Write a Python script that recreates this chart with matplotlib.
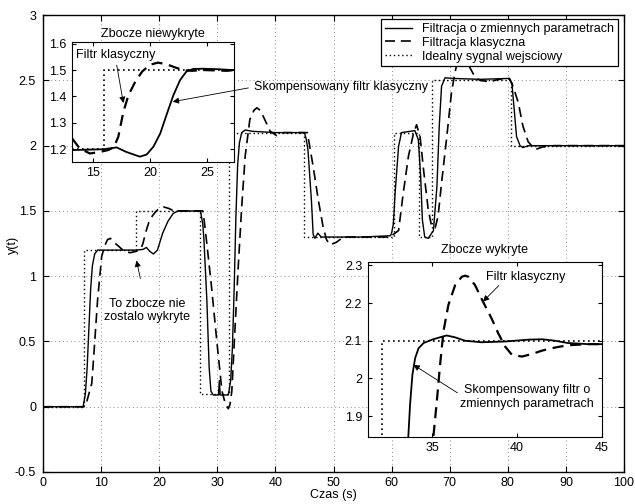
import matplotlib
matplotlib.use("Agg")
import matplotlib.pyplot as plt

plt.rcParams['font.family'] = ['Liberation Sans', 'DejaVu Sans']
plt.rcParams['axes.unicode_minus'] = False

# ---------------- data (main plot) ----------------
ideal_t = [0, 7, 16, 27, 32, 45, 60.4, 64.8, 67, 80.6, 100]
ideal_y = [0, 1.2, 1.5, 0.1, 2.1, 1.3, 2.1, 1.3, 2.5, 2.0, 2.0]

solid_t = [0, 6.9, 7.1, 7.3, 7.6, 7.9, 8.2, 8.5, 8.9, 9.4, 12, 16, 17.2, 17.8, 18.4,
           19.0, 19.7, 20.6, 21.5, 22.4, 23.2, 27.1, 27.3, 27.5, 27.7, 28.2, 28.6,
           28.9, 29.3, 30.2, 30.35, 30.5, 31.9, 32.3, 32.6, 32.9, 33.2, 33.5, 33.8,
           34.2, 34.8, 36, 40, 45.0, 45.3, 45.6, 46.2, 46.5, 46.8, 47.3, 47.9, 55,
           59.8, 60.0, 60.3, 60.6, 61.2, 61.7, 63.2, 64.0, 64.6, 65.0, 65.3, 65.7,
           66.3, 67.2, 67.8, 68.2, 68.6, 69.2, 70.6, 75.2, 80.1, 80.7, 81.1, 81.5,
           82.1, 82.6, 83.5, 90, 100]
solid_y = [0, 0.0, 0.05, 0.1, 0.3, 0.6, 0.9, 1.08, 1.17, 1.2, 1.2, 1.2, 1.205, 1.22, 1.19,
           1.17, 1.2, 1.33, 1.42, 1.48, 1.5, 1.5, 1.45, 1.4, 1.28, 0.82, 0.3,
           0.12, 0.09, 0.09, 0.2, 0.09, 0.09, 0.2, 0.45, 0.9, 1.45, 1.85, 2.02,
           2.1, 2.12, 2.11, 2.1, 2.1, 2.05, 1.97, 1.58, 1.32, 1.29, 1.33, 1.3, 1.3,
           1.31, 1.33, 1.4, 1.635, 1.995, 2.1, 2.11, 2.115, 2.046, 1.764, 1.43, 1.30,
           1.29, 1.35, 1.687, 2.15, 2.456, 2.52, 2.515, 2.508, 2.515, 2.48, 2.277, 2.07,
           2.0, 1.985, 2.0, 2.0, 2.0]

dashed_t = [0, 7.2, 7.6, 8.4, 8.8, 9.4, 10.1, 10.6, 11.1, 11.6, 12.2, 13.0, 14.0, 15.0,
            16.0, 16.8, 17.2, 17.7, 18.2, 18.8, 19.4, 20.0, 20.8, 21.6, 22.3, 23.0,
            27.5, 27.6, 28.2, 29.0, 29.9, 30.8, 31.4, 31.9, 32.2, 32.5, 33.0, 33.6,
            34.2, 34.8, 35.6, 36.3, 36.8, 37.4, 37.9, 39.1, 40.2, 41.4, 45.5, 46.5,
            47.4, 48.2, 48.8, 49.4, 50.5, 51.7, 59.7, 61.2, 62.0, 62.9, 63.8, 64.3,
            64.9, 65.5, 66.3, 66.9, 67.5, 68.0, 68.6, 69.5, 70.3, 70.9, 71.3, 72.2,
            73.2, 74.3, 75.2, 76.9, 78.6, 80.3, 80.9, 81.8, 82.6, 83.5, 84.7, 86.0,
            88, 100]
dashed_y = [0, 0.0, 0.05, 0.18, 0.43, 0.82, 1.15, 1.23, 1.28, 1.29, 1.26, 1.23, 1.19, 1.18,
            1.19, 1.205, 1.25, 1.34, 1.41, 1.46, 1.495, 1.52, 1.53, 1.52, 1.505, 1.5,
            1.5, 1.48, 1.25, 0.92, 0.51, 0.12, 0.02, -0.015, 0.02, 0.12, 0.56, 1.07,
            1.53, 1.92, 2.2, 2.27, 2.29, 2.27, 2.225, 2.11, 2.077, 2.1, 2.1, 1.84,
            1.58, 1.38, 1.28, 1.24, 1.26, 1.3, 1.3, 1.35, 1.635, 1.92, 2.1, 2.16,
            2.07, 1.815, 1.51, 1.38, 1.37, 1.46, 1.715, 2.07, 2.405, 2.56, 2.636, 2.7,
            2.62, 2.53, 2.5, 2.49, 2.51, 2.515, 2.455, 2.33, 2.15, 2.03, 1.97, 1.99,
            2.0, 2.0]

# ---------------- data (inset 1: Zbocze niewykryte) ----------------
in1_ideal_t = [13.15, 15.9, 27.4]
in1_ideal_y = [1.2, 1.5, 1.5]
in1_solid_t = [13.15, 15.9, 17.06, 17.9, 19.1, 19.7, 20.3, 20.9, 21.5, 22.06, 22.65,
               23.2, 23.8, 24.7, 26.0, 27.2, 27.4]
in1_solid_y = [1.197, 1.2, 1.207, 1.19, 1.172, 1.18, 1.21, 1.26, 1.336, 1.405, 1.462,
               1.494, 1.504, 1.505, 1.503, 1.5, 1.5]
in1_dash_t = [13.15, 13.8, 14.7, 15.6, 16.3, 16.8, 17.2, 17.65, 18.1, 18.7, 19.3,
              20.0, 20.7, 21.5, 22.2, 22.9, 23.7, 24.7, 26.8, 27.4]
in1_dash_y = [1.24, 1.203, 1.184, 1.19, 1.197, 1.207, 1.247, 1.342, 1.405, 1.456, 1.494,
              1.52, 1.528, 1.521, 1.51, 1.5, 1.497, 1.5, 1.497, 1.5]

# ---------------- data (inset 2: Zbocze wykryte) ----------------
in2_ideal_t = [31.2, 32.03, 45.0]
in2_ideal_y = [1.5, 2.1, 2.1]
in2_solid_t = [33.55, 33.6, 33.7, 33.84, 34.0, 34.2, 34.5, 35.0, 35.6, 35.86, 36.36,
               36.95, 37.9, 39.3, 40.7, 41.5, 42.25, 43.0, 44.2, 45.0]
in2_solid_y = [1.80, 1.847, 1.93, 2.01, 2.054, 2.08, 2.094, 2.103, 2.111, 2.114, 2.109,
               2.1, 2.096, 2.098, 2.103, 2.104, 2.1, 2.094, 2.091, 2.091]
in2_dash_t = [35.03, 35.08, 35.28, 35.47, 35.67, 35.96, 36.36, 36.75, 36.95, 37.14,
              37.53, 38.0, 38.5, 38.9, 39.3, 39.7, 40.3, 40.9, 41.5, 42.25, 43.0,
              44.2, 45.0]
in2_dash_y = [1.80, 1.847, 1.94, 2.036, 2.125, 2.195, 2.248, 2.27, 2.273, 2.27,
              2.248, 2.204, 2.16, 2.12, 2.085, 2.063, 2.058, 2.065, 2.074, 2.082, 2.088,
              2.091, 2.091]

x_ticks = [0, 10, 20, 30, 40, 50, 60, 70, 80, 90, 100]
y_ticks = [-0.5, 0, 0.5, 1, 1.5, 2, 2.5, 3]
y_tick_labels = ['-0.5', '0', '0.5', '1', '1.5', '2', '2.5', '3']

legend_labels = ['Filtracja o zmiennych parametrach', 'Filtracja klasyczna',
                 'Idealny sygnal wejsciowy']

FS = 9
DASH = (0, (6, 3.5))

fig = plt.figure(figsize=(6.35, 5.04), dpi=100)
ax = fig.add_axes([0.0677, 0.0635, 0.915, 0.9065])

l1, = ax.plot(solid_t, solid_y, color='k', lw=1.0, zorder=3)
l2, = ax.plot(dashed_t, dashed_y, color='k', lw=1.2, linestyle=DASH, zorder=3)
l3, = ax.step(ideal_t, ideal_y, where='post', color='k', lw=1.0, linestyle=(0, (1, 2)), zorder=2)

ax.set_xlim(0, 100)
ax.set_ylim(-0.5, 3)
ax.set_xticks(x_ticks)
ax.set_yticks(y_ticks)
ax.set_yticklabels(y_tick_labels)
ax.grid(True, color='0.55', linestyle=(0, (1, 3)), linewidth=0.7)
ax.tick_params(direction='in', length=4, top=True, right=True, labelsize=FS)
ax.tick_params(axis='x', pad=3.5)
ax.tick_params(axis='y', pad=5)
ax.set_xlabel('Czas (s)', fontsize=FS, va='center')
ax.xaxis.set_label_coords(0.5, -0.051)
ax.set_ylabel('y(t)', fontsize=FS, va='center')
ax.yaxis.set_label_coords(-0.052, 0.497)
for s in ax.spines.values():
    s.set_linewidth(1.0)

leg = ax.legend([l1, l2, l3], legend_labels, loc='upper right',
                bbox_to_anchor=(0.9897, 0.9912), borderaxespad=0, fontsize=FS,
                fancybox=False, edgecolor='k', framealpha=1, handlelength=2.2,
                labelspacing=0.15, borderpad=0.3, handletextpad=0.8)
leg.get_frame().set_linewidth(0.9)
leg.set_zorder(10)

ax.annotate('To zbocze nie\nzostalo wykryte', xy=(16.1, 1.12), xytext=(17.9, 0.74),
            fontsize=FS, ha='center', va='center', linespacing=1.1,
            arrowprops=dict(arrowstyle='-|>', color='k', lw=0.6, mutation_scale=9,
                            shrinkA=12, shrinkB=0))

# ---------------- inset 1 ----------------
a1 = fig.add_axes([0.1139, 0.6792, 0.2546, 0.2369])
a1.plot(in1_solid_t, in1_solid_y, color='k', lw=1.3)
a1.plot(in1_dash_t, in1_dash_y, color='k', lw=1.6, linestyle=(0, (5, 3)))
a1.step(in1_ideal_t, in1_ideal_y, where='post', color='k', lw=1.2, linestyle=(0, (1, 2)))
a1.set_xlim(13.15, 27.4)
a1.set_ylim(1.153, 1.605)
a1.set_xticks([15, 20, 25])
a1.set_yticks([1.2, 1.3, 1.4, 1.5, 1.6])
a1.tick_params(direction='in', length=3, top=True, right=True, labelsize=FS, pad=4)
a1.set_title('Zbocze niewykryte', fontsize=FS, pad=4)
a1.annotate('Filtr klasyczny', xy=(17.65, 1.375), xytext=(13.5, 1.557), fontsize=FS,
            ha='left', va='center',
            arrowprops=dict(arrowstyle='-|>', color='k', lw=0.6, mutation_scale=9,
                            shrinkA=1, shrinkB=0, relpos=(0.5, 0.0)))
a1.annotate('Skompensowany filtr klasyczny', xy=(22.0, 1.38), xytext=(36.3, 2.45),
            textcoords=ax.transData, fontsize=FS, ha='left', va='center',
            annotation_clip=False,
            arrowprops=dict(arrowstyle='-|>', color='k', lw=0.6, mutation_scale=9,
                            shrinkA=2, shrinkB=0, relpos=(0.0, 0.5)))

# ---------------- inset 2 ----------------
a2 = fig.add_axes([0.579, 0.1335, 0.3685, 0.3472])
a2.plot(in2_solid_t, in2_solid_y, color='k', lw=1.3)
a2.plot(in2_dash_t, in2_dash_y, color='k', lw=1.6, linestyle=(0, (5, 3)))
a2.step(in2_ideal_t, in2_ideal_y, where='post', color='k', lw=1.2, linestyle=(0, (1, 2)))
a2.set_xlim(31.2, 45)
a2.set_ylim(1.845, 2.31)
a2.set_xticks([35, 40, 45])
a2.set_yticks([1.9, 2.0, 2.1, 2.2, 2.3])
a2.set_yticklabels(['1.9', '2', '2.1', '2.2', '2.3'])
a2.tick_params(direction='in', length=3, top=True, right=True, labelsize=FS, pad=4)
a2.set_title('Zbocze wykryte', fontsize=FS, pad=6)
a2.annotate('Filtr klasyczny', xy=(38.0, 2.204), xytext=(40.5, 2.27), fontsize=FS,
            ha='center', va='center',
            arrowprops=dict(arrowstyle='-|>', color='k', lw=0.6, mutation_scale=9,
                            shrinkA=0, shrinkB=0, relpos=(0.2, 0.0)))
a2.annotate('Skompensowany filtr o\nzmiennych parametrach', xy=(33.9, 2.036),
            xytext=(40.6, 1.95), fontsize=FS, ha='center', va='center', linespacing=1.2,
            arrowprops=dict(arrowstyle='-|>', color='k', lw=0.6, mutation_scale=9,
                            shrinkA=0, shrinkB=0, relpos=(0.0, 0.6)))

fig.savefig('out.png', dpi=100)
